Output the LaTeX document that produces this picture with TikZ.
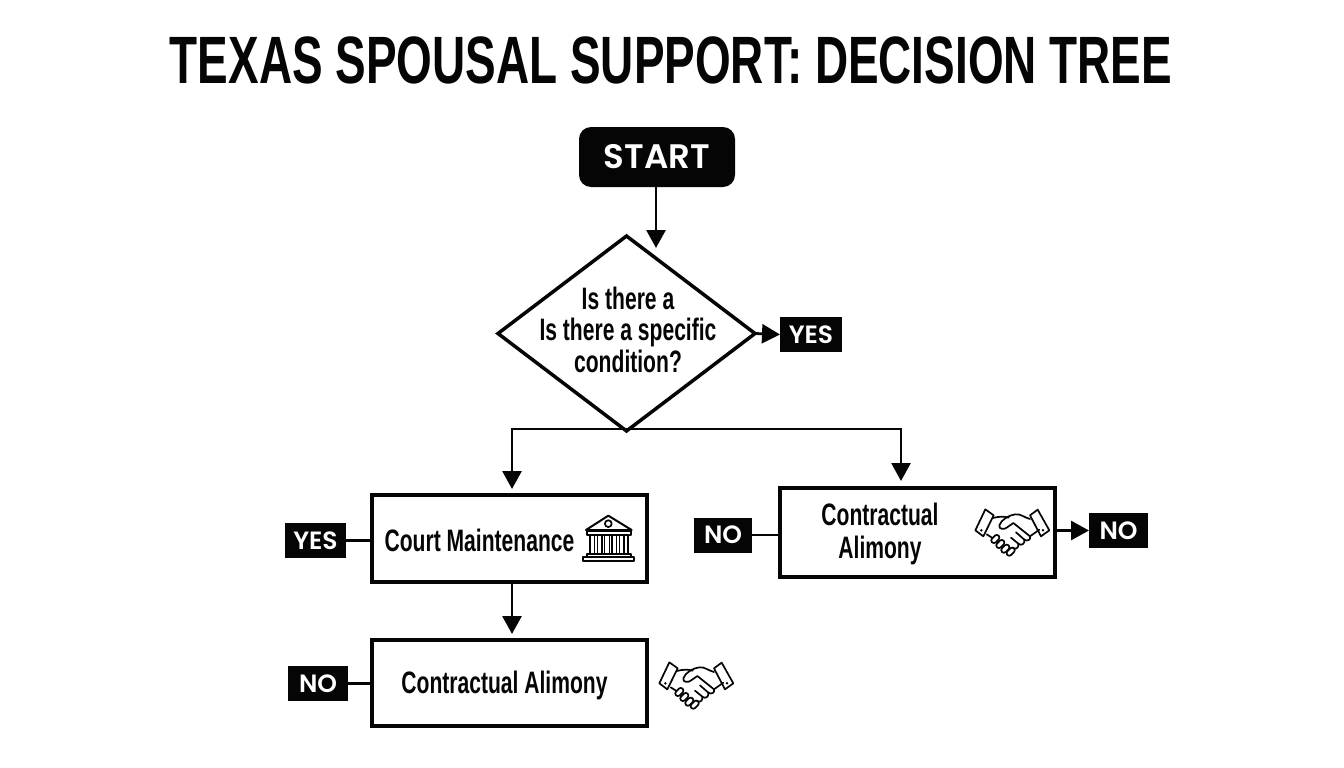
\documentclass[tikz,border=0pt]{standalone}
\usepackage{fontspec}
\usetikzlibrary{arrows.meta,shapes.geometric}
\setmainfont{Liberation Sans}
\newfontfamily\titlefont[FakeStretch=0.685]{Liberation Sans}
\newfontfamily\condfont[FakeStretch=0.68]{Liberation Sans}
\newfontfamily\labfont[BoldFont={Poppins SemiBold}]{Poppins}
\definecolor{ink}{HTML}{050505}
\tikzset{
  title/.style={font=\titlefont\bfseries\fontsize{67}{70}\selectfont,text=ink,inner sep=0pt},
  body/.style={font=\condfont\bfseries\fontsize{31}{31.5}\selectfont,text=ink,inner sep=0pt,align=center},
  outcome/.style={draw=ink,line width=4pt,fill=white,inner sep=0pt,outer sep=0pt},
  tag/.style={fill=ink,text=white,font=\labfont\bfseries\fontsize{25}{25}\selectfont,inner sep=0pt,outer sep=0pt,minimum height=35pt},
  link/.style={draw=ink,line width=2.8pt},
  arrow/.style={link,-{Triangle[length=18pt,width=19pt]}},
  icon/.style={draw=ink,line width=1.7pt,line join=round,line cap=round},
  pics/bank/.style={code={
    \draw[icon,line width=2pt,fill=white] (1015,107) -- (948,150) -- (1085,150) -- cycle;
    \draw[icon] (1015,131) circle (3.4pt);
    \draw[icon,line width=2pt] (950,153) rectangle (1082,166);
    \foreach \cx in {960,982,1004,1026,1048}{\draw[icon,line width=1.4pt] (\cx,166) rectangle (\cx+14,222);}
    \draw[icon] (1062,166) rectangle (1074,222);
    \draw[icon,line width=2pt] (950,222) rectangle (1082,232);
    \draw[icon,line width=2pt] (940,232) rectangle (1092,242);
  }},
  pics/shake/.style={code={
    \draw[icon,fill=white] (88,37) -- (113,55) -- (82,118) -- (58,100) -- cycle;
    \draw[icon,fill=white] (245,38) -- (222,55) -- (255,118) -- (280,100) -- cycle;
    \fill[ink] (76,100) circle (1.4pt) (261,100) circle (1.4pt);
    \draw[icon] (110,63) .. controls (130,58) and (145,58) .. (158,62);
    \draw[icon] (222,66) .. controls (205,62) and (195,50) .. (178,52) .. controls (160,54) and (135,68) .. (130,85) .. controls (128,98) and (145,98) .. (152,92) -- (172,78) -- (222,118);
    \draw[icon] (250,98) -- (222,118) .. controls (226,128) and (214,134) .. (205,128) .. controls (208,140) and (196,148) .. (187,140) .. controls (190,152) and (178,160) .. (170,152);
    \draw[icon] (187,140) -- (165,122) (205,128) -- (180,106);
    \draw[icon] (170,152) .. controls (175,168) and (165,178) .. (152,165);
    \draw[icon] (92,112) -- (108,122);
    \foreach \fx/\fy in {118/126,133/141,148/155,164/164}{
      \draw[icon,fill=white,rounded corners=2.6pt,rotate around={45:(\fx,\fy)}] (\fx-14,\fy-8) rectangle (\fx+14,\fy+8);
    }
  }}
}
\begin{document}
\begin{tikzpicture}[x=1pt,y=-1pt]
\useasboundingbox[fill=white] (0,0) rectangle (1344,768);
\node[title] (heading) at (671,60) {TEXAS SPOUSAL SUPPORT: DECISION TREE};
\node[fill=ink,rounded corners=12pt,minimum width=156pt,minimum height=60pt,inner sep=0pt,outer sep=0pt,text=white,font=\labfont\bfseries\fontsize{34}{34}\selectfont] (start) at (657,157) {START};
\node[diamond,draw=ink,line width=3.5pt,fill=white,minimum width=257pt,minimum height=195pt,inner sep=0pt,outer sep=0pt] (question) at (626.5,333.5) {};
\node[body] (questiontext) at (628,329.5) {Is there a\\Is there a specific\\condition?};
\node[tag,minimum width=62pt] (yesq) at (811,334.5) {YES};
\node[outcome,minimum width=275pt,minimum height=87pt] (court) at (509,538) {};
\node[body] (courttext) at (479.5,540) {Court Maintenance};
\node[tag,minimum width=61pt] (yesc) at (315.5,540.5) {YES};
\node[outcome,minimum width=275pt,minimum height=86pt] (contractb) at (509,682.5) {};
\node[body] (contractbtext) at (504.5,685) {Contractual Alimony};
\node[tag,minimum width=60pt] (nob) at (318,683.5) {NO};
\node[outcome,minimum width=275pt,minimum height=89pt] (contractr) at (917,532) {};
\node[body] (contractrtext) at (880,533.5) {Contractual\\[1.5pt]Alimony};
\node[tag,minimum width=58pt] (nol) at (723,535) {NO};
\node[tag,minimum width=59pt] (nor) at (1118.5,530.5) {NO};
\coordinate (starttip) at (656,248);
\coordinate (split) at (626.5,429);
\coordinate (lefttip) at (512,489);
\coordinate (righttip) at (901,481);
\coordinate (downtip) at (512,634);
\draw[arrow] (start.south -| starttip) -- (starttip);
\draw[arrow] (question.east) -- (yesq.west);
\draw[arrow] (split) -| (lefttip);
\draw[arrow] (split) -| (righttip);
\draw[arrow] (court.south -| downtip) -- (downtip);
\draw[link] (yesc.east) -- (yesc.east -| court.west);
\draw[link] (nob.east) -- (nob.east -| contractb.west);
\draw[link] (nol.east) -- (nol.east -| contractr.west);
\draw[arrow] (nor.west -| contractr.east) -- (nor.west);
\begin{scope}[shift={(270,480)},x=0.3333pt,y=-0.3333pt]
\pic {bank};
\end{scope}
\begin{scope}[shift={(640,650)},x=0.3333pt,y=-0.3333pt]
\pic {shake};
\end{scope}
\begin{scope}[shift={(956,497)},x=0.3333pt,y=-0.3333pt]
\pic {shake};
\end{scope}
\end{tikzpicture}
\end{document}
